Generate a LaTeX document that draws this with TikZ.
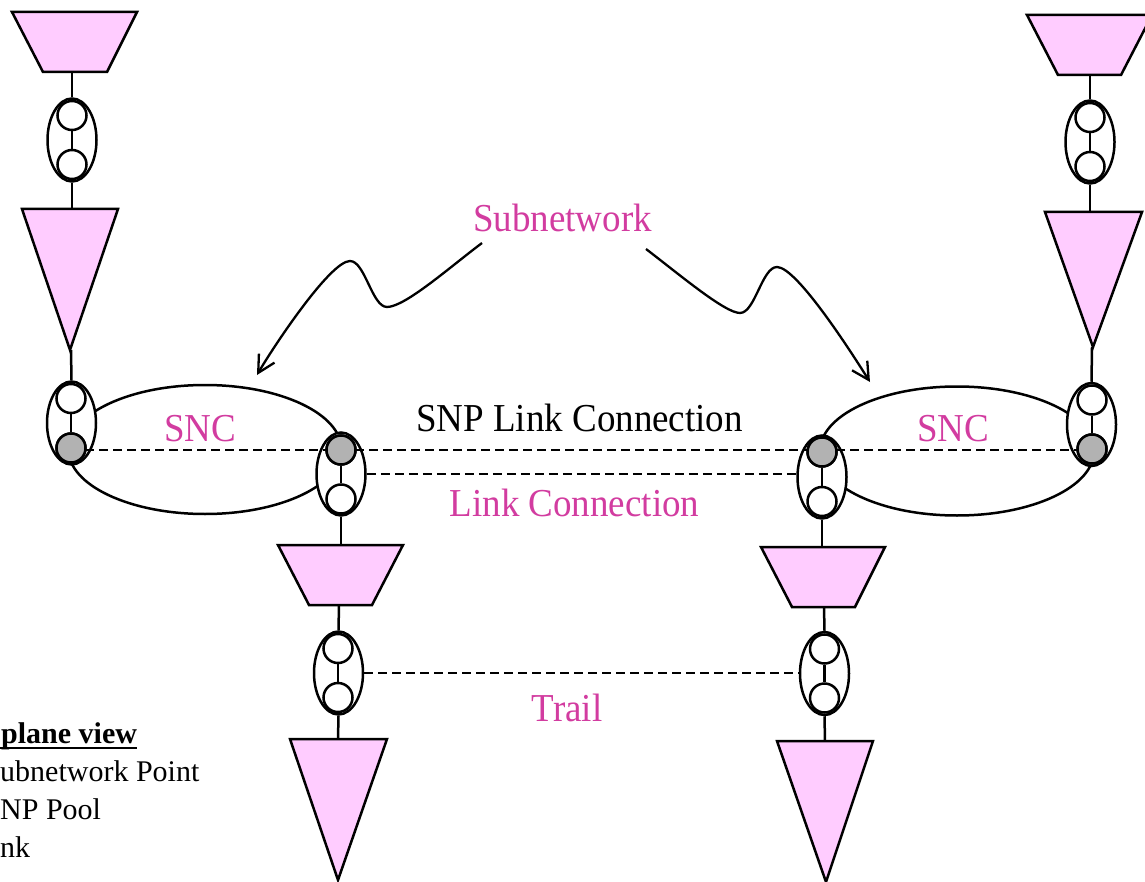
\documentclass[tikz,border=0pt]{standalone}
\usepackage{fontspec}
\setmainfont{Liberation Serif}
\usetikzlibrary{shapes.geometric,arrows.meta}
\definecolor{snpink}{RGB}{210,60,160}
\definecolor{adfill}{RGB}{255,204,255}
\definecolor{snpgray}{RGB}{178,178,178}
\newcommand{\tallbox}[1]{\scalebox{1}[1.07]{#1}}
\begin{document}
\begin{tikzpicture}[x=1pt,y=-1pt,
  outline/.style={line width=2.5pt, line join=miter},
  adapt/.style={outline, fill=adfill},
  pool/.style={ellipse, draw, line width=2.5pt, fill=white, minimum width=49pt, minimum height=83pt, inner sep=0pt},
  cp/.style={circle, draw, line width=2.5pt, fill=white, minimum size=29pt, inner sep=0pt},
  cpg/.style={cp, fill=snpgray},
  link/.style={line width=2.5pt},
  dashline/.style={line width=2.2pt, dash pattern=on 9pt off 5pt},
  snc/.style={ellipse, draw, line width=2.5pt, inner sep=0pt, minimum width=273pt, minimum height=129pt},
  lbl/.style={font=\fontsize{37}{40}\selectfont, inner sep=0pt, anchor=base},
  legend/.style={font=\fontsize{30}{34}\selectfont, inner sep=0pt, anchor=base west},
  pointer/.style={line width=2.3pt, -{Straight Barb[length=17pt,width=18pt]}}
]
\useasboundingbox (0,0) rectangle (1145,882);

% ---------- adaptation functions (trapezoids and triangles) ----------
\filldraw[adapt] (12,12) -- (137,12) -- (107,72) -- (43,72) -- cycle;
\coordinate (tA) at (72,72);
\filldraw[adapt] (22,209) -- (118,209) -- (70,350) -- cycle;
\coordinate (vAt) at (72,209);
\coordinate (vAb) at (71,350);

\filldraw[adapt] (1027,15) -- (1152,15) -- (1121,75) -- (1058,75) -- cycle;
\coordinate (tB) at (1090,75);
\filldraw[adapt] (1045,212) -- (1142,212) -- (1093,347) -- cycle;
\coordinate (vBt) at (1090,212);
\coordinate (vBb) at (1092,347);

\filldraw[adapt] (278,545) -- (403,545) -- (372,605) -- (309,605) -- cycle;
\coordinate (tCt) at (341,545);
\coordinate (tCb) at (339,605);
\filldraw[adapt] (290,739) -- (387,739) -- (338,880) -- cycle;
\coordinate (vCt) at (338,739);

\filldraw[adapt] (761,547) -- (885,547) -- (855,607) -- (792,607) -- cycle;
\coordinate (tDt) at (822,547);
\coordinate (tDb) at (824,607);
\filldraw[adapt] (777,741) -- (873,741) -- (826,882) -- cycle;
\coordinate (vDt) at (825,741);

% ---------- subnetworks ----------
\node[snc] (sncL) at (205,449.5) {};
\node[snc, minimum width=274pt] (sncR) at (957,451) {};

% ---------- SNP pools ----------
\node[pool] (pA) at (72,140) {};
\node[pool] (pB) at (1090,142) {};
\node[pool] (pL) at (71.5,423) {};
\node[pool] (pML) at (341,474) {};
\node[pool] (pMR) at (822,477) {};
\node[pool] (pR) at (1091.5,424.5) {};
\node[pool] (pTL) at (338.5,673) {};
\node[pool] (pTR) at (824.5,673.5) {};

% ---------- connection points ----------
\node[cp]  (pA1) at (72,115.5) {};
\node[cp]  (pA2) at (72,164.5) {};
\node[cp]  (pB1) at (1090,117.5) {};
\node[cp]  (pB2) at (1090,166.5) {};
\node[cp]  (pL1) at (71,398.5) {};
\node[cpg] (pL2) at (71,448) {};
\node[cpg] (pML1) at (341,450) {};
\node[cp]  (pML2) at (341,499) {};
\node[cpg] (pMR1) at (822,452) {};
\node[cp]  (pMR2) at (822,501.5) {};
\node[cp]  (pR1) at (1092,400) {};
\node[cpg] (pR2) at (1092,449) {};
\node[cp]  (pTL1) at (338,648.5) {};
\node[cp]  (pTL2) at (338,697.5) {};
\node[cp]  (pTR1) at (824.5,649) {};
\node[cp]  (pTR2) at (824.5,698) {};

% ---------- dashed connections ----------
\coordinate (snpY) at (0,450);
\draw[dashline] (pL2.center |- snpY) -- (pML1.center |- snpY);
\draw[dashline] (pML1.center |- snpY) -- (pMR1.center |- snpY);
\draw[dashline] (pMR1.center |- snpY) -- (pR2.center |- snpY);
\draw[dashline] (pML.east) -- (pML.east -| pMR.west);
\draw[dashline] (pTL.east) -- (pTL.east -| pTR.west);

% redraw the shaded connection points over the dashed lines
\node[cpg] at (pL2) {};
\node[cpg] at (pML1) {};
\node[cpg] at (pMR1) {};
\node[cpg] at (pR2) {};

% ---------- vertical links ----------
\draw[link] (pA1) -- (pA2);
\draw[link] (pB1) -- (pB2);
\draw[link] (pL1) -- (pL2);
\draw[link] (pML1) -- (pML2);
\draw[link] (pMR1) -- (pMR2);
\draw[link] (pR1) -- (pR2);
\draw[link] (pTL1) -- (pTL2);
\draw[link] (pTR1) -- (pTR2);

\draw[link] (tA) -- (pA.north);
\draw[link] (pA.south) -- (vAt);
\draw[link] (vAb) -- (pL.north);
\draw[link] (tB) -- (pB.north);
\draw[link] (pB.south) -- (vBt);
\draw[link] (vBb) -- (pR.north);
\draw[link] (pML.south) -- (tCt);
\draw[link] (tCb) -- (pTL.north);
\draw[link] (pTL.south) -- (vCt);
\draw[link] (pMR.south) -- (tDt);
\draw[link] (tDb) -- (pTR.north);
\draw[link] (pTR.south) -- (vDt);

% ---------- labels ----------
\node[lbl, text=snpink] (lsub) at (562.5,232) {\tallbox{Subnetwork}};
\node[lbl, text=snpink] (lsncL) at (200,441) {\tallbox{SNC}};
\node[lbl, text=snpink] (lsncR) at (953,441) {\tallbox{SNC}};
\node[lbl] (lsnp) at (579.5,431) {\tallbox{SNP Link Connection}};
\node[lbl, text=snpink] (llc) at (574.5,516) {\tallbox{Link Connection}};
\node[lbl, text=snpink] (ltrail) at (567,721) {\tallbox{Trail}};

% ---------- pointers from the Subnetwork label ----------
\coordinate (sL) at (482,243);
\coordinate (eL) at (257,375);
\coordinate (sR) at (646,249);
\coordinate (eR) at (870,382);
\draw[pointer] (sL) .. controls (450,267) and (405,307) .. (387,307)
  .. controls (372,307) and (365,261) .. (350,261)
  .. controls (330,261) and (272,349) .. (eL);
\draw[pointer] (sR) .. controls (680,275) and (725,313) .. (740,313)
  .. controls (755,313) and (762,267) .. (777,267)
  .. controls (797,267) and (853,355) .. (eR);

% ---------- legend ----------
\node[legend] (lg0) at (1,743) {\bfseries plane view};
\coordinate (ulY) at (0,748);
\draw[line width=2.4pt] (ulY) -- (ulY -| lg0.east);
\node[legend] (lg1) at (0,781) {ubnetwork Point};
\node[legend] (lg2) at (0,819) {NP Pool};
\node[legend] (lg3) at (0,857) {nk};
\end{tikzpicture}
\end{document}
